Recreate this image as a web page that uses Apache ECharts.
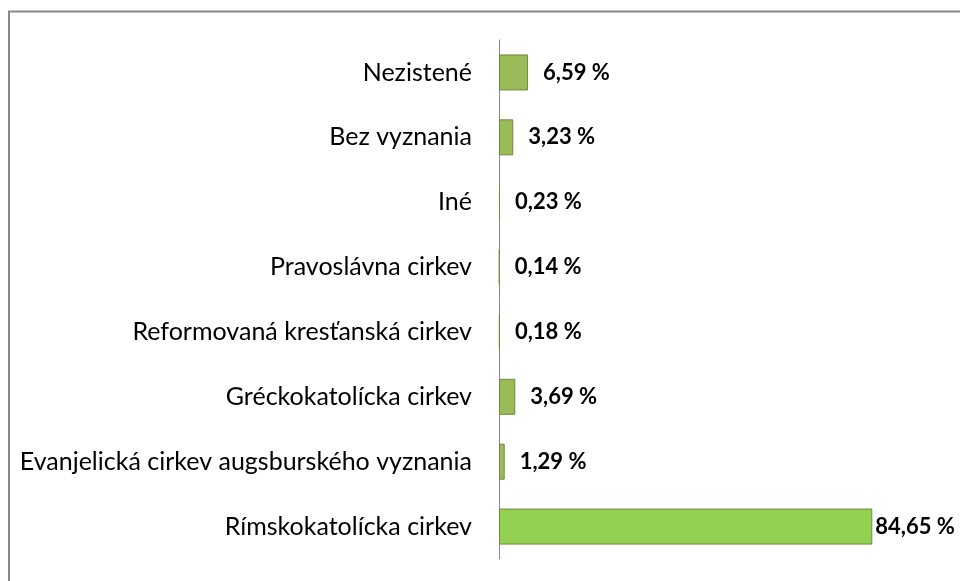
<!DOCTYPE html>
<html>
<head>
<meta charset="utf-8">
<script src="https://cdn.jsdelivr.net/npm/echarts@6/dist/echarts.min.js"></script>
<style>
    html, body {margin: 0; padding: 0; background: #fff;}
    #chart {width: 960px; height: 581px;}
</style>
</head>
<body>
<div id="chart"></div>
<script>
// poradie zhora nadol
const categories = [
    'Nezistené',
    'Bez vyznania',
    'Iné',
    'Pravoslávna cirkev',
    'Reformovaná kresťanská cirkev',
    'Gréckokatolícka cirkev',
    'Evanjelická cirkev augsburského vyznania',
    'Rímskokatolícka cirkev'
];
const values = [6.59, 3.23, 0.23, 0.14, 0.18, 3.69, 1.29, 84.65];

let myChart = echarts.init(document.getElementById('chart'));

let data = values.map((v, i) => {
    let last = i == values.length - 1;
    return {
        value: v,
        itemStyle: {
            color: last ? '#92D050' : '#9BBB59'
        },
        label: {
            distance: last ? 3 : 15
        }
    }
});

let option = {
    animation: false,
    textStyle: {
        fontFamily: 'Lato'
    },
    graphic: [{
        type: 'rect',
        shape: {x: 9, y: 11.5, width: 1000, height: 1000},
        style: {fill: 'none', stroke: '#888', lineWidth: 2},
        silent: true
    }],
    grid: {
        left: 499,
        right: 20,
        top: 40,
        bottom: 22
    },
    xAxis: {
        type: 'value',
        min: 0,
        max: 100,
        show: false
    },
    yAxis: {
        type: 'category',
        inverse: true,
        data: categories,
        axisLine: {
            show: true,
            lineStyle: {color: '#888', width: 1}
        },
        axisTick: {show: false},
        axisLabel: {
            margin: 27,
            color: '#000',
            fontSize: 25
        }
    },
    series: [{
        type: 'bar',
        data: data,
        barWidth: 36,
        itemStyle: {
            borderColor: '#71893F',
            borderWidth: 1
        },
        label: {
            show: true,
            position: 'right',
            color: '#000',
            fontWeight: 'bold',
            fontSize: 22,
            formatter: (p) => p.value.toFixed(2).replace('.', ',') + ' %'
        }
    }]
};
myChart.setOption(option);
</script>
</body>
</html>
